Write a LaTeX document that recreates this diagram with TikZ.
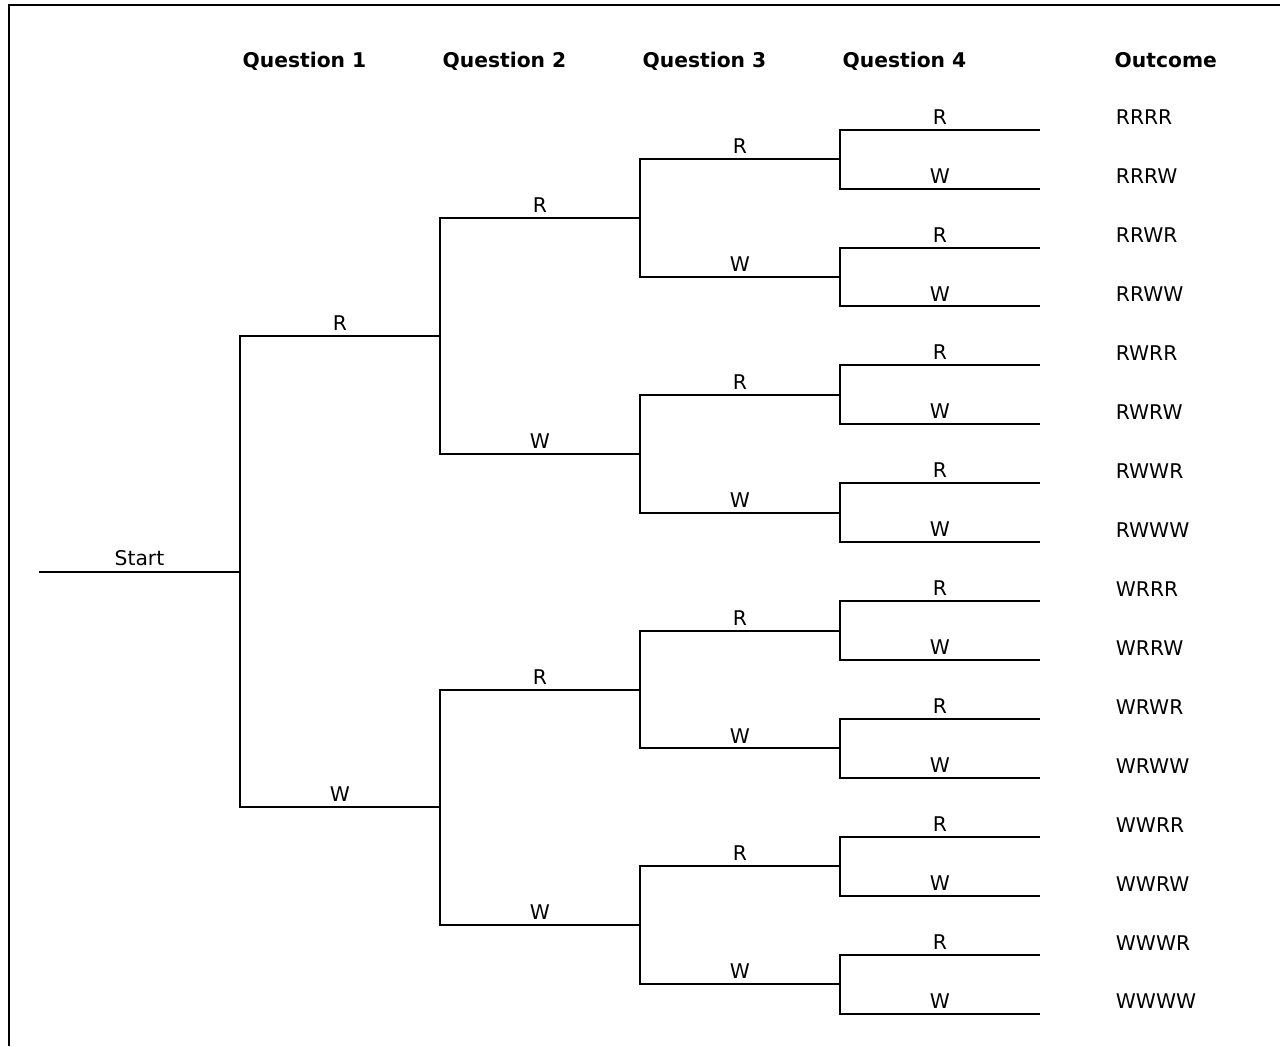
\documentclass[tikz,border=0pt]{standalone}
\usepackage{fontspec}
\setmainfont{DejaVu Sans}
\usepackage{tikz}
\usetikzlibrary{calc}
\tikzset{
    font={\fontsize{15.2pt}{18pt}\selectfont},
    branch/.style={line width=1.5pt},
    lbl/.style={above},
    head/.style={anchor=base west, font={\fontsize{15.2pt}{18pt}\selectfont\bfseries}},
    outcome/.style={anchor=south west, xshift=53.4pt},
    }
\def\leaftop{129.7}
\def\leafgap{58.93}

\begin{document}
\begin{tikzpicture}
    [x=0.75pt, y=-0.75pt]
    \useasboundingbox (0,0) rectangle (1280,1046);
    \draw[branch] (9,1046) -- (9,5) -- (1280,5);
    % junctions
    \foreach \lv/\s in {1/16,2/8,3/4,4/2,5/1}{
        \pgfmathtruncatemacro{\m}{16/\s-1}
        \foreach \j in {0,...,\m}
            \coordinate (n\lv-\j) at ({40+200*\lv},{\leaftop+\leafgap*(\s*\j+(\s-1)/2)});
    }
    \coordinate (start) at (39,{\leaftop+\leafgap*7.5});
    \draw[branch] (start) -- node[lbl]{Start} (n1-0);
    % branches
    \foreach \lv in {1,...,4}{
        \pgfmathtruncatemacro{\m}{2^(\lv-1)-1}
        \pgfmathtruncatemacro{\nx}{\lv+1}
        \foreach \j in {0,...,\m}{
            \pgfmathtruncatemacro{\up}{2*\j}
            \pgfmathtruncatemacro{\dn}{2*\j+1}
            \draw[branch] (n\lv-\j) |- node[lbl,pos=.75]{R} (n\nx-\up);
            \draw[branch] (n\lv-\j) |- node[lbl,pos=.75]{W} (n\nx-\dn);
        }
    }
    % outcomes
    \foreach \o [count=\i from 0] in {RRRR,RRRW,RRWR,RRWW,RWRR,RWRW,RWWR,RWWW,
                                      WRRR,WRRW,WRWR,WRWW,WWRR,WWRW,WWWR,WWWW}
        \node[outcome] (o-\i) at (n5-\i) {\o};
    % text
    \foreach \q in {1,...,4}
        \node[head] (q\q) at ({238+200*(\q-1)},67) {Question \q};
    \node[head] (out) at (1110,67) {Outcome};
\end{tikzpicture}
\end{document}
